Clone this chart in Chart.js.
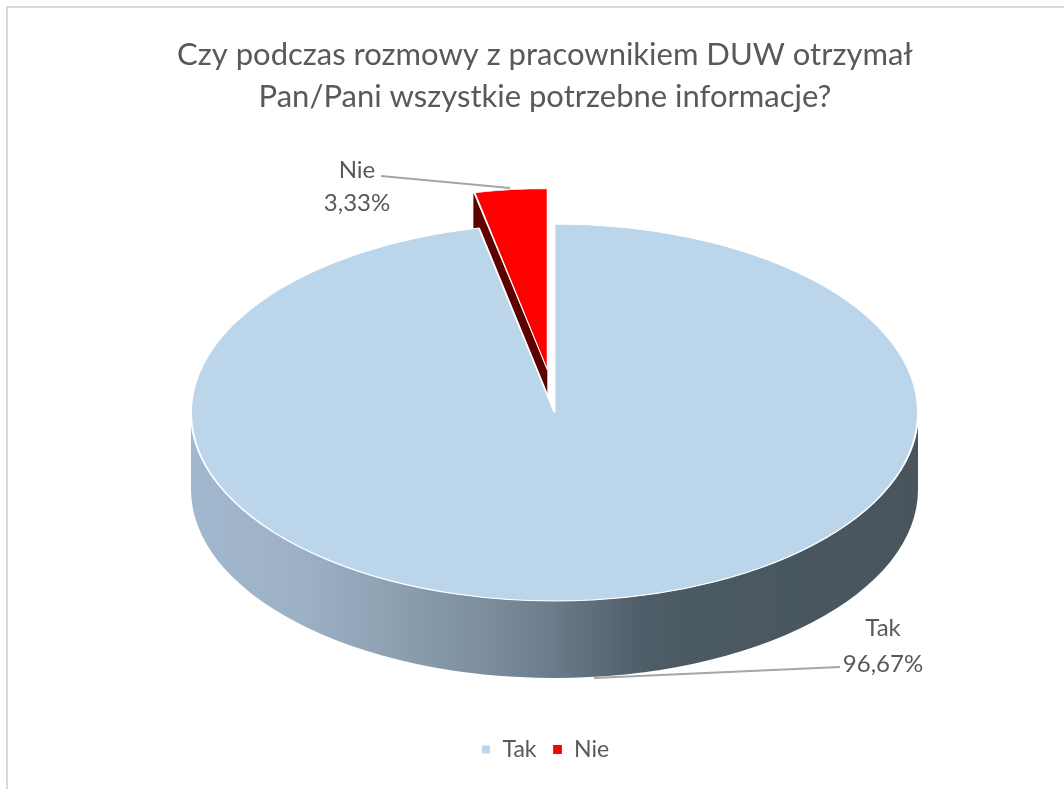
<!DOCTYPE html>
<html lang="pl">
<head>
<meta charset="utf-8">
<title>Wykres</title>
<script src="https://cdn.jsdelivr.net/npm/chart.js@4"></script>
<style>
html,body{margin:0;padding:0;background:#fff;overflow:hidden}
#wrap{position:relative;width:1064px;height:789px;overflow:hidden}
#frame{position:absolute;left:6px;top:6px;width:1100px;height:820px;border-left:2.5px solid #d9d9d9;border-top:2.5px solid #d9d9d9}
canvas{position:absolute;left:0;top:0}
</style>
</head>
<body>
<div id="wrap"><div id="frame"></div><canvas id="c" width="1064" height="789"></canvas></div>
<script>
const categories = ['Tak', 'Nie'];
const values = [96.67, 3.33];
const sliceColors = ['#BBD5EB', '#FF0000'];
const sideColor = '#5c0000';
const titleLines = ['Czy podczas rozmowy z pracownikiem DUW otrzymał', 'Pan/Pani wszystkie potrzebne informacje?'];
const explode = [0, 83];
const explodeNudge = [0, 1.5];
const sliceScale = [1, 0.96];
const sliceBorders = [2, 1.2];

const TEXT = '#595959', FONT = 'Lato, Carlito, sans-serif';
const pieCenter = {x: 554.5, y: 412.5}, pieRadius = 363.5, tilt = 0.5186, depth = 77;
const wallStops = [[0, '#a2b8ce'], [0.15, '#9db1c6'], [0.26, '#8fa3b5'], [0.42, '#7a8b9b'], [0.5, '#6a7a89'], [0.62, '#505e69'], [0.68, '#4b5963'], [1, '#48555d']];
const labelSpots = [
  {x: 883, y1: 628, y2: 664, from: [594, 678], to: [840, 667]},
  {x: 357, y1: 170, y2: 203, from: [381, 176], to: [510, 188]}
];
const fmt = v => v.toFixed(2).replace('.', ',') + '%';

const pie3d = {
  id: 'pie3d',
  afterDatasetUpdate(chart) {
    chart.getDatasetMeta(0).data.forEach((arc, i) => {
      const mid = (arc.startAngle + arc.endAngle) / 2;
      arc.x += Math.cos(mid) * explode[i] + explodeNudge[i];
      arc.y += Math.sin(mid) * explode[i];
      arc.outerRadius *= sliceScale[i];
    });
  },
  beforeDatasetDraw(chart) {
    const ctx = chart.ctx, [tak, nie] = chart.getDatasetMeta(0).data;
    const base = {x: tak.x, y: tak.y};
    const cx = pieCenter.x, cy = pieCenter.y, rx = tak.outerRadius, ry = rx * tilt;
    // outer wall of the large slice
    const g = ctx.createLinearGradient(cx - rx, 0, cx + rx, 0);
    wallStops.forEach(s => g.addColorStop(s[0], s[1]));
    ctx.save();
    ctx.fillStyle = g;
    ctx.beginPath();
    ctx.ellipse(cx, cy, rx, ry, 0, 0, Math.PI);
    ctx.lineTo(cx - rx, cy + depth);
    ctx.ellipse(cx, cy + depth, rx, ry, 0, Math.PI, 0, true);
    ctx.closePath();
    ctx.fill();
    // cut face of the exploded slice, later hidden by the large top face
    const px = (x) => cx + (x - base.x);
    const py = (y) => cy + (y - base.y) * tilt;
    const ax = nie.x + Math.cos(nie.startAngle) * nie.outerRadius;
    const ay = nie.y + Math.sin(nie.startAngle) * nie.outerRadius;
    ctx.fillStyle = sideColor;
    ctx.beginPath();
    ctx.moveTo(px(ax) - 1.5, py(ay));
    ctx.lineTo(px(nie.x), py(nie.y));
    ctx.lineTo(px(nie.x), py(nie.y) + depth);
    ctx.lineTo(px(ax) - 1.5, py(ay) + depth);
    ctx.closePath();
    ctx.fill();
    ctx.restore();
    // top faces are drawn by Chart.js inside this tilted frame
    ctx.save();
    ctx.translate(cx, cy);
    ctx.scale(1, tilt);
    ctx.translate(-base.x, -base.y);
  },
  afterDatasetDraw(chart) {
    chart.ctx.restore();
  },
  afterDraw(chart) {
    const ctx = chart.ctx;
    ctx.save();
    ctx.textAlign = 'center';
    ctx.textBaseline = 'middle';
    categories.forEach((name, i) => {
      const s = labelSpots[i];
      ctx.strokeStyle = '#a6a6a6';
      ctx.lineWidth = 2;
      ctx.beginPath();
      ctx.moveTo(s.from[0], s.from[1]);
      ctx.lineTo(s.to[0], s.to[1]);
      ctx.stroke();
      ctx.fillStyle = TEXT;
      ctx.font = '24px ' + FONT;
      ctx.fillText(name, s.x, s.y1);
      ctx.fillText(fmt(values[i]), s.x, s.y2);
    });
    ctx.restore();
  }
};

new Chart(document.getElementById('c'), {
  type: 'pie',
  data: {
    labels: categories,
    datasets: [{
      data: values,
      backgroundColor: sliceColors,
      borderColor: '#ffffff',
      borderWidth: sliceBorders,
      clip: false,
      radius: pieRadius
    }]
  },
  options: {
    responsive: false,
    animation: false,
    rotation: 0,
    radius: pieRadius,
    layout: {padding: {left: 26, right: 0, top: 0, bottom: 18}},
    plugins: {
      tooltip: {enabled: false},
      title: {
        display: true,
        text: titleLines,
        color: TEXT,
        font: {family: FONT, size: 31, weight: 'normal', lineHeight: 1.35},
        padding: {top: 34, bottom: 10}
      },
      legend: {
        display: true,
        position: 'bottom',
        labels: {color: TEXT, font: {family: FONT, size: 23}, boxWidth: 10, boxHeight: 10, padding: 16}
      }
    }
  },
  plugins: [pie3d]
});
</script>
</body>
</html>
